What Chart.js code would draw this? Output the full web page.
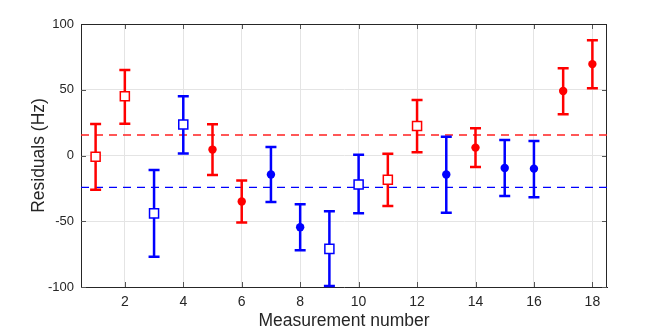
<!DOCTYPE html>
<html><head><meta charset="utf-8">
<script src="https://cdn.jsdelivr.net/npm/chart.js@4/dist/chart.umd.min.js"></script>
<style>html,body{margin:0;padding:0;background:#fff;}canvas{display:block;}</style>
</head><body>
<canvas id="c" width="664" height="332"></canvas>
<script>
// ---- data ----
const measurement = [1,2,3,4,5,6,7,8,9,10,11,12,13,14,15,16,17,18];
const residual = [-1, 45, -44, 23.5, 4.5, -35, -14.5, -54.5, -71, -22, -18.5, 22.5, -14.5, 6, -9.5, -10, 49, 69.5];
const upper    = [24, 65, -11, 45, 23.7, -19, 6.5, -37, -42.4, 0.6, 1.4, 42.2, 14.3, 20.7, 11.8, 11, 66.3, 87.6];
const lower    = [-26, 24.2, -77, 1.5, -14.8, -51, -35.4, -72, -99.2, -44, -38.4, 2.4, -43.5, -8.7, -30.8, -31.8, 31.3, 51.1];
const pointGroup  = ['red','red','blue','blue','red','red','blue','blue','blue','blue','red','red','blue','red','blue','blue','red','red'];
const pointMarker = ['square','square','square','square','dot','dot','dot','dot','square','square','square','square','dot','dot','dot','dot','dot','dot'];
const redLevel = 15.6;
const blueLevel = -24.2;
const xRange = [0.5, 18.5];
const yRange = [-100, 100];
const xTicks = [2,4,6,8,10,12,14,16,18];
const yTicks = [-100,-50,0,50,100];

const COLORS = {red:'#ff0000', blue:'#0000ff'};
const FONT = "'Liberation Sans', Arial, Helvetica, sans-serif";
const TEXT = '#262626';

function buildSet(group, marker){
  const data = [];
  measurement.forEach((m,i)=>{
    if(pointGroup[i]===group && pointMarker[i]===marker){
      data.push({x:m, y:residual[i], yMin:lower[i], yMax:upper[i]});
    }
  });
  const sq = marker==='square';
  return {
    label: group+' '+marker,
    data,
    order: 1,
    isErr: true,
    errColor: COLORS[group],
    pointStyle: sq ? 'rect' : 'circle',
    pointRadius: sq ? 6.4 : 4.2,
    pointHoverRadius: sq ? 6.4 : 4.2,
    backgroundColor: sq ? '#ffffff' : COLORS[group],
    borderColor: COLORS[group],
    borderWidth: sq ? 1.5 : 0,
    showLine: false
  };
}
function levelSet(level, color){
  return {
    label:'level', order: 5,
    data:[{x:xRange[0], y:level},{x:xRange[1], y:level}],
    showLine:true, borderColor:color, borderWidth:1.3, borderDash:[8,6],
    pointRadius:0, pointHoverRadius:0, fill:false
  };
}

const errPlugin = {
  id:'errbars',
  beforeDraw(chart){ chart._errDone = false; },
  beforeDatasetsDraw(chart){
    // inward tick marks and top/right box
    const {ctx, chartArea:a, scales:{x, y}} = chart;
    ctx.save();
    ctx.strokeStyle = '#555'; ctx.lineWidth = 1;
    ctx.beginPath();
    xTicks.forEach(v=>{
      const px = Math.round(x.getPixelForValue(v))+0.5;
      ctx.moveTo(px, a.bottom); ctx.lineTo(px, a.bottom-5);
      ctx.moveTo(px, a.top); ctx.lineTo(px, a.top+5);
    });
    yTicks.forEach(v=>{
      const py = Math.round(y.getPixelForValue(v))+0.5;
      ctx.moveTo(a.left, py); ctx.lineTo(a.left+5, py);
      ctx.moveTo(a.right, py); ctx.lineTo(a.right-5, py);
    });
    ctx.stroke();
    ctx.strokeStyle = TEXT; ctx.lineWidth = 1;
    ctx.beginPath();
    ctx.moveTo(a.left, a.top+0.5); ctx.lineTo(a.right, a.top+0.5);
    ctx.moveTo(a.right-0.5, a.top); ctx.lineTo(a.right-0.5, a.bottom);
    ctx.stroke();
    ctx.restore();
  },
  beforeDatasetDraw(chart, args){
    const ds = chart.data.datasets[args.index];
    if(!ds.isErr || chart._errDone) return;
    chart._errDone = true;
    const {ctx, scales:{x, y}} = chart;
    ctx.save();
    ctx.lineWidth = 2.5; ctx.lineCap = 'butt';
    chart.data.datasets.forEach(d=>{
      if(!d.isErr) return;
      ctx.strokeStyle = d.errColor;
      d.data.forEach(p=>{
        const px = x.getPixelForValue(p.x);
        const y1 = y.getPixelForValue(p.yMax);
        const y2 = y.getPixelForValue(p.yMin);
        ctx.beginPath();
        ctx.moveTo(px, y1); ctx.lineTo(px, y2);
        ctx.moveTo(px-5.5, y1); ctx.lineTo(px+5.5, y1);
        ctx.moveTo(px-5.5, y2); ctx.lineTo(px+5.5, y2);
        ctx.stroke();
      });
    });
    ctx.restore();
  }
};

new Chart(document.getElementById('c'), {
  type:'scatter',
  data:{ datasets:[
    levelSet(redLevel, '#ff2020'),
    levelSet(blueLevel, '#0000ff'),
    buildSet('red','square'),
    buildSet('blue','square'),
    buildSet('red','dot'),
    buildSet('blue','dot')
  ]},
  options:{
    responsive:false, animation:false, devicePixelRatio:1,
    layout:{padding:{top:24, right:57, left:0, bottom:0}},
    plugins:{legend:{display:false}, tooltip:{enabled:false}},
    scales:{
      x:{
        type:'linear', min:xRange[0], max:xRange[1],
        afterBuildTicks:s=>{ s.ticks = xTicks.map(v=>({value:v})); },
        afterFit:s=>{ s.height = 45; },
        grid:{color:'#e4e4e4', lineWidth:1, drawTicks:false},
        border:{display:true, color:TEXT, width:1},
        ticks:{padding:7, autoSkip:false, maxRotation:0, color:TEXT, font:{family:FONT, size:14}},
        title:{display:true, text:'Measurement number', color:TEXT, font:{family:FONT, size:17.5}, padding:{top:0, bottom:0}}
      },
      y:{
        type:'linear', min:yRange[0], max:yRange[1],
        afterBuildTicks:s=>{ s.ticks = yTicks.map(v=>({value:v})); },
        afterFit:s=>{ s.width = 81; },
        grid:{color:'#e4e4e4', lineWidth:1, drawTicks:false},
        border:{display:true, color:TEXT, width:1},
        ticks:{padding:7, color:TEXT, font:{family:FONT, size:13}},
        title:{display:true, text:'Residuals (Hz)', color:TEXT, font:{family:FONT, size:17.5}, padding:{top:28.5, bottom:0}}
      }
    }
  },
  plugins:[errPlugin]
});
</script>
</body></html>
